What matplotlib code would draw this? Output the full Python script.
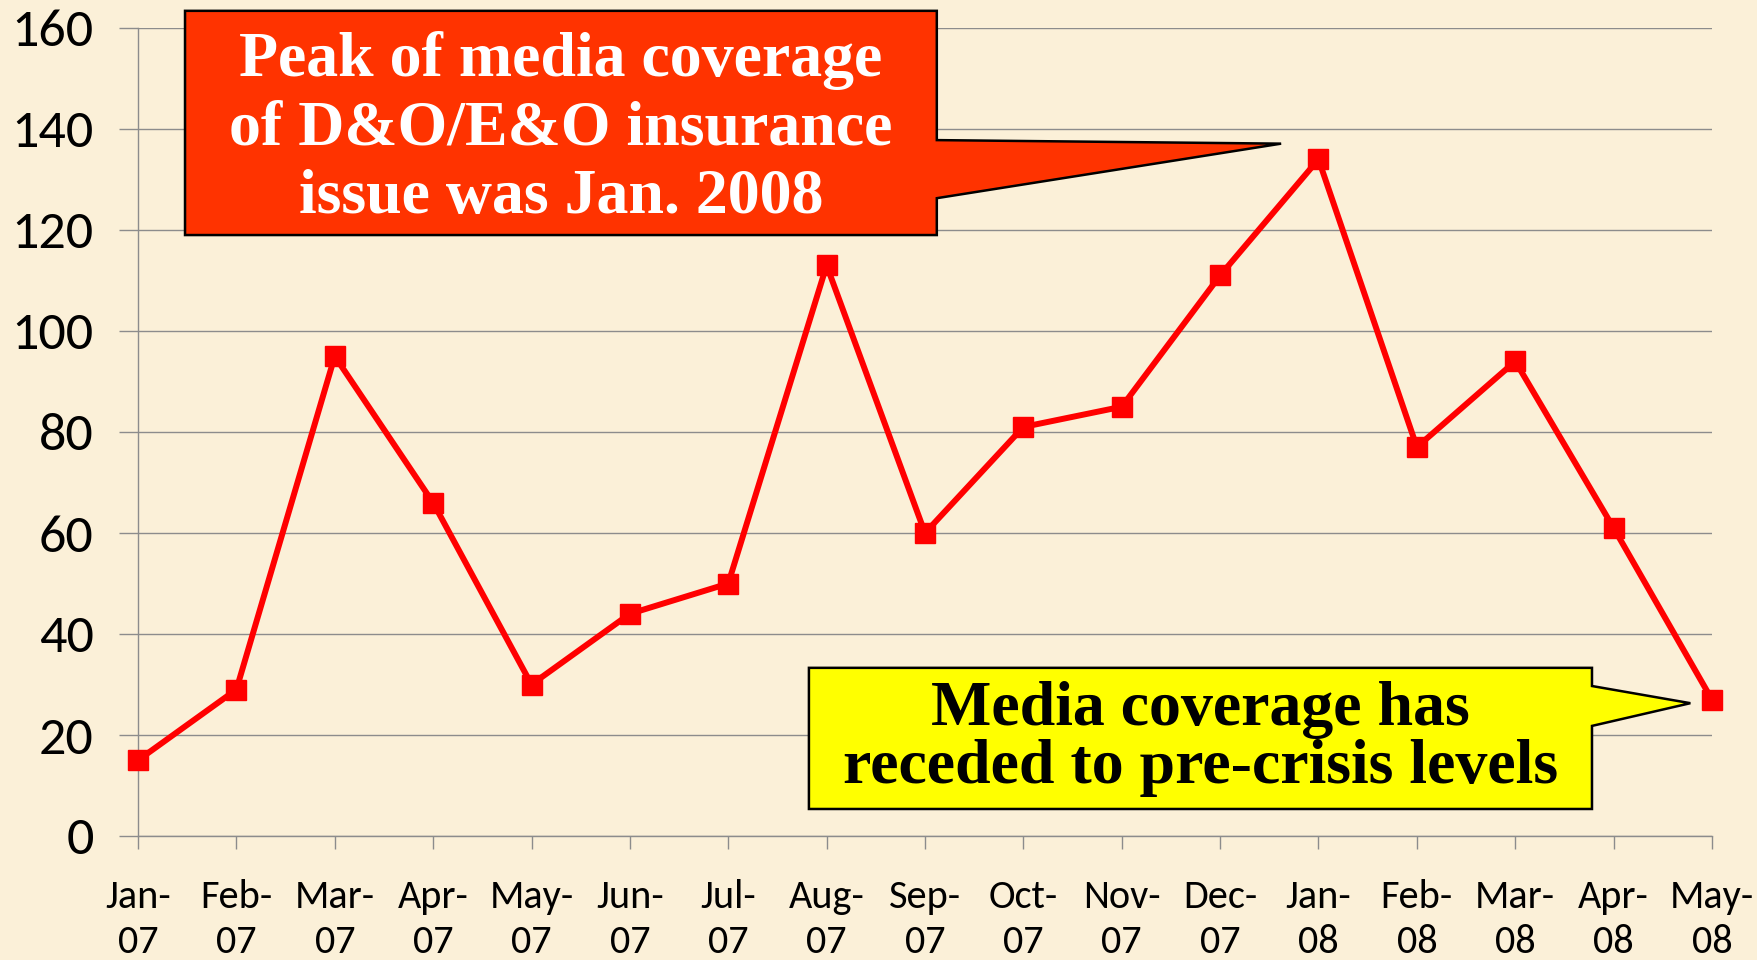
import numpy as np
import matplotlib
matplotlib.use("Agg")
import matplotlib.pyplot as plt
from matplotlib.patches import Polygon

months = ["Jan-\n07", "Feb-\n07", "Mar-\n07", "Apr-\n07", "May-\n07", "Jun-\n07",
          "Jul-\n07", "Aug-\n07", "Sep-\n07", "Oct-\n07", "Nov-\n07", "Dec-\n07",
          "Jan-\n08", "Feb-\n08", "Mar-\n08", "Apr-\n08", "May-\n08"]
coverage = [15, 29, 95, 66, 30, 44, 50, 113, 60, 81, 85, 111, 134, 77, 94, 61, 27]
y_ticks = [0, 20, 40, 60, 80, 100, 120, 140, 160]

peak_note = "Peak of media coverage\nof D&O/E&O insurance\nissue was Jan. 2008"
recede_note = "Media coverage has\nreceded to pre-crisis levels"

bg = "#FBF0D8"
grid_col = "#8C8C8C"


def callout(ax, x0, x1, y0, y1, base_lo, base_hi, tip, face):
    # box with a wedge pointer coming out of its right side
    pts = [(x0, y0), (x1, y0), (x1, base_lo), tip, (x1, base_hi), (x1, y1), (x0, y1)]
    poly = Polygon(pts, closed=True, facecolor=face, edgecolor="black",
                   linewidth=1.8, joinstyle="miter", clip_on=False, zorder=5)
    ax.add_patch(poly)


fig = plt.figure(figsize=(17.58, 9.6), dpi=100, facecolor=bg)
ax = fig.add_axes([138 / 1758, 124 / 960, (1712 - 138) / 1758, (836 - 28) / 960])
ax.set_facecolor(bg)

x = np.arange(len(months))
ax.plot(x, coverage, color="#FF0000", linewidth=4.3, marker="s", markersize=15,
        markerfacecolor="#FF0000", markeredgecolor="#FF0000", zorder=4, clip_on=False)

ax.set_xlim(0, len(months) - 1)
ax.set_ylim(0, 160)
ax.set_yticks(y_ticks)
ax.set_xticks(x)
ax.set_xticklabels(months, fontfamily="Carlito", fontsize=29, linespacing=1.3)
ax.set_yticklabels([str(v) for v in y_ticks], fontfamily="Carlito", fontsize=39)

ax.yaxis.grid(True, color=grid_col, linewidth=1.0)
ax.set_axisbelow(True)
for side in ["top", "right"]:
    ax.spines[side].set_visible(False)
for side in ["left", "bottom"]:
    ax.spines[side].set_color(grid_col)
    ax.spines[side].set_linewidth(1.0)
ax.tick_params(axis="y", length=14, width=1.0, color=grid_col, pad=18)
ax.tick_params(axis="x", length=9, width=1.0, color=grid_col, pad=22)

# red callout pointing at the Jan-08 peak
callout(ax, 0.478, 8.12, 119.0, 163.4, 126.3, 137.8, (11.62, 137.1), "#FF3300")
ax.text(4.30, 140.0, peak_note, ha="center", va="center", color="white",
        fontfamily="Liberation Serif", fontweight="bold", fontsize=46,
        linespacing=1.24, zorder=6)

# yellow callout pointing at May-08
callout(ax, 6.82, 14.78, 5.35, 33.3, 21.8, 29.7, (15.78, 26.3), "#FFFF00")
ax.text(10.80, 19.3, recede_note, ha="center", va="center", color="black",
        fontfamily="Liberation Serif", fontweight="bold", fontsize=46,
        linespacing=1.0, zorder=6)

fig.savefig("out.png", dpi=100, facecolor=bg)
